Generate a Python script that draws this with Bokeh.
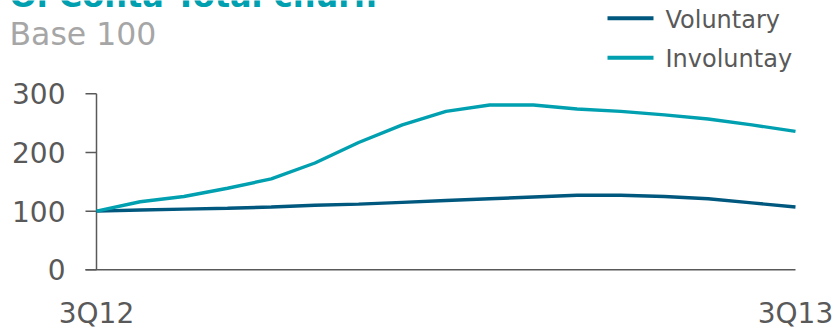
from bokeh.plotting import figure
from bokeh.models import Range1d
from bokeh.core.properties import value
from bokeh.embed import file_html
from bokeh.resources import INLINE

# Oi Conta churn index, base 100 = 3Q12
periods = list(range(17))
period_ticks = [0, 16]
period_labels = ["3Q12", "3Q13"]
voluntary = [100, 102, 103.5, 105, 107, 110, 112, 115, 118, 121, 124, 127, 127, 125, 121, 114, 107]
involuntary = [100, 116, 125, 139, 155, 182, 217, 247, 270, 281, 281, 274, 270, 264, 257, 247, 236]
y_ticks = [0, 100, 200, 300]
series_names = ["Voluntary", "Involuntay"]

DARK_BLUE = "#00587F"
TEAL = "#00A0B0"
GREY_TEXT = "#595959"
FONT = value("DejaVu Sans")

W, H = 838, 330
# plot area: x index 0..16 spans px 96..795, y value 0..300 spans px 269.3..93.3
PX_PER_X = (795 - 96) / 16
PX_PER_Y = (269.3 - 93.3) / 300


def dx(px):
    return (px - 96) / PX_PER_X


def dy(py):
    return (269.3 - py) / PX_PER_Y


p = figure(width=W, height=H, output_backend="svg", toolbar_location=None,
           x_range=Range1d(dx(0), dx(W)), y_range=Range1d(dy(H), dy(0)),
           min_border=0)
p.axis.visible = False
p.grid.visible = False
p.outline_line_color = None
p.background_fill_color = "white"
p.border_fill_color = "white"

# axis lines and y ticks
tick_x0 = dx(85)
p.segment(x0=[0], y0=[0], x1=[0], y1=[max(y_ticks)], line_color=GREY_TEXT, line_width=1.5)
p.segment(x0=[tick_x0], y0=[0], x1=[periods[-1]], y1=[0], line_color=GREY_TEXT, line_width=1.5)
p.segment(x0=[tick_x0] * len(y_ticks), y0=y_ticks, x1=[0] * len(y_ticks), y1=y_ticks,
          line_color=GREY_TEXT, line_width=1.5)

# tick labels
p.text(x=[dx(65)] * len(y_ticks), y=y_ticks, text=[str(t) for t in y_ticks],
       text_font=FONT, text_font_size="28px", text_color=GREY_TEXT,
       text_align="right", text_baseline="middle")
p.text(x=period_ticks, y=[dy(312.7)] * 2, text=period_labels,
       text_font=FONT, text_font_size="28px", text_color=GREY_TEXT,
       text_align="center", text_baseline="middle")

# series
p.line(periods, voluntary, line_color=DARK_BLUE, line_width=3.4)
p.line(periods, involuntary, line_color=TEAL, line_width=3.4)

# legend
leg_y = [dy(17.7), dy(57.3)]
p.segment(x0=[dx(607)] * 2, y0=leg_y, x1=[dx(653)] * 2, y1=leg_y,
          line_color=[DARK_BLUE, TEAL], line_width=4)
p.text(x=[dx(665)] * 2, y=[dy(19.7), dy(58.5)], text=series_names,
       text_font=FONT, text_font_size="24px", text_color=GREY_TEXT,
       text_align="left", text_baseline="middle")

# title block
p.text(x=[dx(9)], y=[dy(-4.5)], text=["Oi Conta Total churn"],
       text_font=FONT, text_font_size="32px", text_font_style="bold",
       text_color=TEAL, text_baseline="middle")
p.text(x=[dx(9)], y=[dy(33.8)], text=["Base 100"],
       text_font=FONT, text_font_size="31.5px",
       text_color="#A6A6A6", text_baseline="middle")

open("out.html", "w").write(file_html(p, INLINE))
